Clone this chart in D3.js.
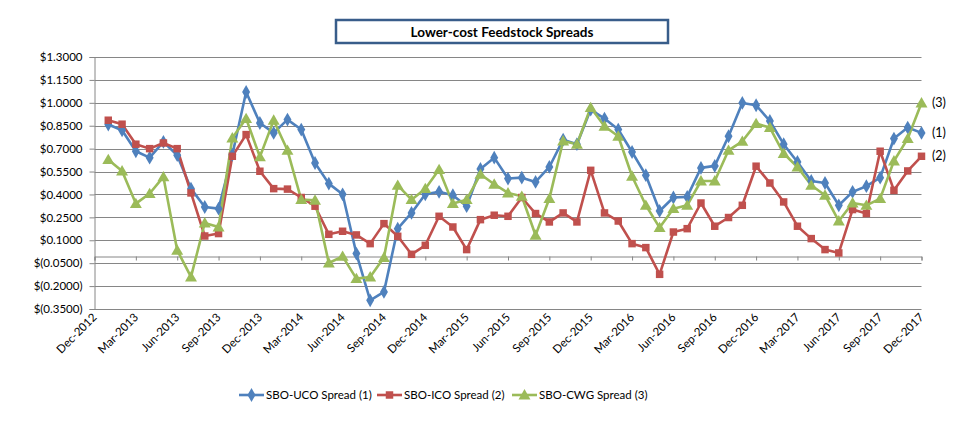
<!DOCTYPE html>
<html><head><meta charset="utf-8">
<script src="https://cdn.jsdelivr.net/npm/d3@7"></script>
<style>body{margin:0;background:#fff}svg{display:block}text{font-family:Lato,"Open Sans",sans-serif}</style>
</head><body><svg id="c" width="970" height="423"></svg>
<script>
const title = "Lower-cost Feedstock Spreads";
const startMonth = "2012-12"; // month index 0
const seriesNames = ["SBO-UCO Spread (1)", "SBO-ICO Spread (2)", "SBO-CWG Spread (3)"];
const endLabels = ["(1)", "(2)", "(3)"];
const yTicks = [-0.35, -0.2, -0.05, 0.1, 0.25, 0.4, 0.55, 0.7, 0.85, 1.0, 1.15, 1.3];
// Jan-2013 .. Dec-2017
const uco = [0.858,0.82,0.683,0.641,0.744,0.657,0.438,0.318,0.307,0.66,
  1.071,0.868,0.803,0.89,0.825,0.606,0.471,0.401,0.013,-0.293,
  -0.238,0.176,0.279,0.401,0.417,0.395,0.323,0.567,0.641,0.504,
  0.51,0.482,0.58,0.759,0.729,0.956,0.897,0.825,0.678,0.526,
  0.292,0.38,0.384,0.574,0.587,0.781,0.999,0.984,0.881,0.729,
  0.613,0.488,0.475,0.329,0.417,0.454,0.51,0.766,0.838,0.803];
const ico = [0.886,0.86,0.729,0.70,0.737,0.70,0.41,0.128,0.144,0.65,
  0.792,0.552,0.438,0.435,0.38,0.323,0.139,0.159,0.135,0.078,
  0.209,0.126,0.008,0.067,0.257,0.187,0.039,0.235,0.264,0.257,
  0.38,0.275,0.22,0.279,0.22,0.558,0.279,0.226,0.078,0.052,
  -0.123,0.154,0.176,0.344,0.192,0.249,0.329,0.585,0.475,0.351,
  0.192,0.111,0.039,0.017,0.301,0.275,0.683,0.427,0.554,0.65];
const cwg = [0.628,0.554,0.34,0.406,0.515,0.035,-0.14,0.213,0.187,0.77,
  0.897,0.646,0.886,0.689,0.366,0.362,-0.049,-0.005,-0.151,-0.14,
  -0.013,0.46,0.366,0.438,0.563,0.34,0.366,0.532,0.467,0.41,
  0.388,0.133,0.373,0.75,0.729,0.969,0.847,0.781,0.519,0.329,
  0.183,0.307,0.329,0.488,0.488,0.689,0.748,0.864,0.838,0.668,
  0.58,0.46,0.395,0.226,0.344,0.329,0.373,0.619,0.766,0.999];
const colors = ["#4F81BD", "#C0504D", "#9BBB59"];
const symbols = [d3.symbolDiamond, d3.symbolSquare, d3.symbolTriangle];

const svg = d3.select("#c");
const x = d3.scaleLinear().domain([0, 60]).range([94.5, 921.5]);
const y = d3.scaleLinear().domain([-0.35, 1.3]).range([309, 57]);
const monthDate = i => new Date(2012, 11 + i, 1);
const fmtMonth = d3.timeFormat("%b-%Y");

// title box
svg.append("rect").attr("x", 336).attr("y", 20).attr("width", 332).attr("height", 23)
  .attr("fill", "#fff").attr("stroke", "#385D8A").attr("stroke-width", 2.5);
svg.append("text").attr("x", 502).attr("y", 36.5).attr("text-anchor", "middle")
  .attr("font-size", 13.5).attr("font-weight", "bold").attr("fill", "#000").text(title);

// gridlines
svg.append("g").selectAll("line").data(yTicks).join("line")
  .attr("x1", 94.5).attr("x2", 921.5)
  .attr("y1", d => Math.round(y(d)) + 0.5).attr("y2", d => Math.round(y(d)) + 0.5)
  .attr("stroke", "#868686").attr("stroke-width", 1);

// y axis
const yAxis = d3.axisLeft(y).tickValues(yTicks).tickSize(5).tickPadding(7)
  .tickFormat(d => d < 0 ? "$(" + d3.format(".4f")(-d) + ")" : "$" + d3.format(".4f")(d));
const gy = svg.append("g").attr("transform", "translate(94.5,0)").call(yAxis);
gy.select(".domain").attr("stroke", "#868686");
gy.selectAll(".tick line").attr("stroke", "#868686");
gy.selectAll(".tick text").attr("font-size", 11.5).attr("fill", "#000");

// zero category axis
const tickIdx = d3.range(0, 61, 3);
const xAxis = d3.axisBottom(x).tickValues(tickIdx).tickSize(4).tickFormat("");
const gx = svg.append("g").attr("transform", `translate(0,${Math.round(y(0)) + 0.5})`).call(xAxis);
gx.select(".domain").attr("stroke", "#868686");
gx.selectAll(".tick line").attr("stroke", "#868686");

// x labels (rotated) at bottom
svg.append("g").selectAll("text").data(tickIdx).join("text")
  .attr("transform", d => `translate(${x(d) + 3},${318}) rotate(-45)`)
  .attr("text-anchor", "end").attr("font-size", 11.5).attr("fill", "#000")
  .text(d => fmtMonth(monthDate(d)));

// series
const allSeries = [uco, ico, cwg];
const line = d3.line().x((d, i) => x(i + 1)).y(d => y(d));
allSeries.forEach((s, k) => {
  svg.append("path").datum(s).attr("d", line).attr("fill", "none")
    .attr("stroke", colors[k]).attr("stroke-width", 2.6).attr("stroke-linejoin", "round");
});
allSeries.forEach((s, k) => {
  const sz = [55, 56, 62][k];
  svg.append("g").selectAll("path").data(s).join("path")
    .attr("transform", (d, i) => `translate(${x(i + 1)},${y(d) + (k === 2 ? 1 : 0)})`)
    .attr("d", d3.symbol().type(symbols[k]).size(sz)).attr("fill", colors[k]);
});

// end labels
allSeries.forEach((s, k) => {
  svg.append("text").attr("x", 932).attr("y", y(s[s.length - 1]) + 4)
    .attr("font-size", 12.5).attr("fill", "#000").text(endLabels[k]);
});

// legend
const legX = [239, 377, 512];
seriesNames.forEach((n, k) => {
  const g = svg.append("g").attr("transform", `translate(${legX[k]},395)`);
  g.append("line").attr("x1", 0).attr("x2", 25).attr("stroke", colors[k]).attr("stroke-width", 2.6);
  g.append("path").attr("transform", `translate(12.5,${k === 2 ? 1 : 0})`)
    .attr("d", d3.symbol().type(symbols[k]).size([55, 56, 62][k])).attr("fill", colors[k]);
  g.append("text").attr("x", 27).attr("y", 4).attr("font-size", 11.5).attr("fill", "#000").text(n);
});
</script></body></html>
